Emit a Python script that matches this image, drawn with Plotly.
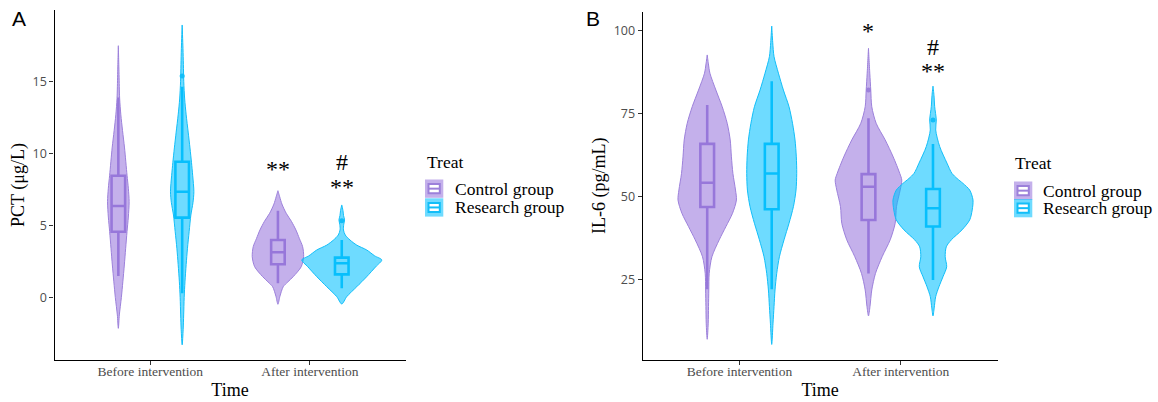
import plotly.graph_objects as go

W, H = 1158, 402

# ---------------- data ----------------
categories = ["Before intervention", "After intervention"]
groups = ["Control group", "Research group"]

# box statistics: [lower whisker, Q1, median, Q3, upper whisker] per time point
pct_control_box = [[1.5, 4.58, 6.37, 8.47, 13.9], [1.0, 2.32, 3.15, 4.0, 6.04]]
pct_research_box = [[0.3, 5.56, 7.36, 9.44, 14.65], [0.65, 1.62, 2.39, 2.78, 4.0]]
pct_control_outliers = [[], []]
pct_research_outliers = [[15.4], [5.35]]

il6_control_box = [[22.1, 46.9, 54.2, 65.9, 77.6], [26.9, 43.0, 53.0, 56.8, 73.6]]
il6_research_box = [[22.1, 46.2, 57.0, 65.9, 84.8], [24.9, 41.0, 46.5, 52.3, 65.9]]
il6_control_outliers = [[], [82.1]]
il6_research_outliers = [[], [73.1]]

# violin density profiles (value level, relative density)
pct_control_before_lv = [-2.13, -1.2, 0.0, 1.1, 2.27, 3.4, 4.6, 5.6, 6.67, 7.6, 8.5, 10.4, 11.6, 12.7, 13.85, 15.5, 17.5]
pct_control_before_d = [0, 1.0, 3.0, 4.5, 6.0, 7.3, 8.7, 10.0, 10.8, 10.0, 8.7, 6.2, 4.2, 2.5, 1.3, 0.7, 0]
pct_research_before_lv = [-3.28, -2.2, -1.2, 0.0, 1.1, 2.3, 3.43, 4.6, 5.74, 6.6, 7.36, 8.5, 9.4, 10.4, 11.5, 12.7, 13.8, 15.0, 16.2, 17.3, 18.94]
pct_research_before_d = [0, 1.0, 1.5, 2.0, 2.8, 4.0, 5.3, 7.0, 8.7, 10.8, 11.7, 10.5, 9.3, 7.8, 6.0, 4.0, 2.5, 1.6, 1.2, 0.8, 0]
pct_control_after_lv = [-0.46, 0.1, 0.76, 1.1, 1.46, 2.15, 2.85, 3.54, 4.1, 4.7, 5.3, 5.86, 6.5, 7.0, 7.43]
pct_control_after_d = [0, 2.0, 5.3, 10.0, 15.3, 23.3, 25.7, 24.7, 21.5, 18.0, 13.5, 8.3, 4.0, 1.8, 0]
pct_research_after_lv = [-0.44, 0.07, 0.76, 1.46, 2.15, 2.62, 2.9, 3.31, 3.65, 4.0, 4.35, 4.7, 5.1, 5.4, 5.7, 6.05, 6.44]
pct_research_after_d = [0, 5.0, 15.0, 25.0, 34.0, 40.0, 33.0, 25.0, 15.0, 8.3, 3.5, 1.7, 2.0, 2.8, 1.8, 1.2, 0]

il6_control_before_lv = [7.05, 11.9, 16.9, 21.9, 26.9, 31.9, 37.0, 41.0, 45.0, 49.0, 52.0, 57.0, 62.0, 67.1, 72.1, 77.1, 82.1, 87.2, 90.0, 92.7]
il6_control_before_d = [0, 1.0, 1.3, 1.6, 2.0, 4.7, 12.0, 18.7, 25.3, 29.2, 28.3, 25.7, 24.2, 23.0, 20.0, 15.0, 8.7, 2.7, 1.2, 0]
il6_research_before_lv = [5.5, 11.9, 16.9, 21.9, 26.9, 31.9, 37.0, 42.0, 47.0, 52.0, 57.0, 62.0, 67.1, 72.1, 77.1, 82.1, 87.2, 92.2, 96.5, 101.4]
il6_research_before_d = [0, 1.3, 2.3, 3.3, 5.0, 7.7, 12.3, 17.3, 21.7, 24.3, 25.0, 24.6, 23.3, 20.8, 17.3, 11.7, 6.7, 2.3, 1.0, 0]
il6_control_after_lv = [14.1, 16.9, 21.9, 26.9, 32.0, 37.0, 42.0, 47.0, 52.0, 55.0, 57.0, 62.0, 67.1, 72.1, 77.1, 82.1, 87.2, 94.7]
il6_control_after_d = [0, 1.5, 3.3, 7.0, 13.8, 21.7, 26.7, 28.0, 31.7, 33.3, 31.3, 24.7, 16.7, 7.7, 3.3, 2.3, 1.3, 0]
il6_research_after_lv = [14.1, 16.5, 19.9, 22.9, 25.9, 28.9, 31.9, 34.9, 37.0, 40.0, 43.0, 46.0, 49.0, 52.0, 54.0, 55.5, 57.0, 60.1, 65.1, 70.1, 73.1, 77.1, 80.5, 83.3]
il6_research_after_d = [0, 1.2, 2.7, 6.0, 10.0, 13.7, 12.2, 13.3, 18.3, 29.0, 36.7, 39.2, 40.0, 36.7, 30.0, 24.0, 19.0, 14.0, 6.7, 2.7, 3.3, 1.7, 1.0, 0]

# significance marks: (time index, group index, text, value level)
pct_marks = [(1, 0, "**", 8.99), (1, 1, "#", 9.40), (1, 1, "**", 7.78)]
il6_marks = [(1, 0, "*", 100.2), (1, 1, "#", 95.2), (1, 1, "**", 88.2)]

# ---------------- styles ----------------
line_colors = ["#9C80DA", "#12BEF8"]
fill_colors = ["rgba(147,112,219,0.55)", "rgba(0,191,255,0.57)"]
dodge = [-0.2, 0.2]
XR = [0.4, 2.6]
SERIF = "Liberation Serif, Times New Roman, serif"
SANS = "Open Sans, Noto Sans, sans-serif"

panels = [
    dict(xa="x", ya="y", dom_x=(54.5, 405.6), dom_y=(10, 360), yr=[-4.33, 19.98], ytv=[0, 5, 10, 15],
         ytitle="PCT (μg/L)", boxes=[pct_control_box, pct_research_box],
         outl=[pct_control_outliers, pct_research_outliers],
         prof=[[(pct_control_before_lv, pct_control_before_d), (pct_control_after_lv, pct_control_after_d)],
               [(pct_research_before_lv, pct_research_before_d), (pct_research_after_lv, pct_research_after_d)]],
         marks=pct_marks, label="A", label_xy=(19, 19),
         leg=dict(title=(425, 162), key_x=425, key_y=(179.5, 198.3), text_x=453)),
    dict(xa="x2", ya="y2", dom_x=(642.7, 997.5), dom_y=(11.7, 360), yr=[0.81, 105.72], ytv=[25, 50, 75, 100],
         ytitle="IL-6 (pg/mL)", boxes=[il6_control_box, il6_research_box],
         outl=[il6_control_outliers, il6_research_outliers],
         prof=[[(il6_control_before_lv, il6_control_before_d), (il6_control_after_lv, il6_control_after_d)],
               [(il6_research_before_lv, il6_research_before_d), (il6_research_after_lv, il6_research_after_d)]],
         marks=il6_marks, label="B", label_xy=(593, 19),
         leg=dict(title=(1013, 163), key_x=1014, key_y=(181.5, 199.0), text_x=1041)),
]

def px(x):
    return x / W

def py(y):
    return 1 - y / H

fig = go.Figure()
layout_axes = {}
annotations = []
shapes = []

for p in panels:
    ppu = (p["dom_x"][1] - p["dom_x"][0]) / (XR[1] - XR[0])
    # violins
    for t in range(len(categories)):
        for g in range(len(groups)):
            lv, d = p["prof"][g][t]
            c = t + 1 + dodge[g]
            xs = [c + v / ppu for v in d] + [c - v / ppu for v in reversed(d)]
            ys = list(lv) + list(reversed(lv))
            fig.add_trace(go.Scatter(x=xs, y=ys, mode="lines", fill="toself",
                                     fillcolor=fill_colors[g],
                                     line=dict(color=line_colors[g], width=1, shape="spline", smoothing=0.8),
                                     xaxis=p["xa"], yaxis=p["ya"], showlegend=False, hoverinfo="skip"))
    # boxes
    for t in range(len(categories)):
        for g in range(len(groups)):
            lf, q1, med, q3, uf = p["boxes"][g][t]
            c = t + 1 + dodge[g]
            fig.add_trace(go.Box(x=[c], lowerfence=[lf], q1=[q1], median=[med], q3=[q3], upperfence=[uf],
                                 width=0.085, fillcolor="white", line=dict(color=line_colors[g], width=2.6),
                                 whiskerwidth=0, boxpoints=False, xaxis=p["xa"], yaxis=p["ya"],
                                 showlegend=False, hoverinfo="skip"))
            ol = p["outl"][g][t]
            if ol:
                fig.add_trace(go.Scatter(x=[c] * len(ol), y=ol, mode="markers",
                                         marker=dict(color=line_colors[g], size=5),
                                         xaxis=p["xa"], yaxis=p["ya"], showlegend=False, hoverinfo="skip"))
    # significance marks
    for t, g, txt, yv in p["marks"]:
        annotations.append(dict(x=t + 1 + dodge[g], y=yv, xref=p["xa"], yref=p["ya"], text=txt,
                                showarrow=False, font=dict(family=SERIF, size=24, color="black"),
                                yshift=-1 if "*" in txt else 0, xanchor="center", yanchor="middle"))
    # axes
    xk = "xaxis" if p["xa"] == "x" else "xaxis2"
    yk = "yaxis" if p["ya"] == "y" else "yaxis2"
    layout_axes[xk] = dict(domain=[px(p["dom_x"][0]), px(p["dom_x"][1])], range=XR, anchor=p["ya"],
                           tickvals=[1, 2], ticktext=categories, showline=True, linecolor="black",
                           linewidth=1.2, ticks="outside", ticklen=4, tickcolor="#333333", showgrid=False,
                           zeroline=False, tickfont=dict(family=SERIF, size=13.5, color="#4D4D4D"),
                           ticklabelstandoff=-5,
                           title=dict(text="Time", font=dict(family=SERIF, size=18, color="black"), standoff=5))
    layout_axes[yk] = dict(domain=[py(p["dom_y"][1]), py(p["dom_y"][0])], range=p["yr"], anchor=p["xa"],
                           tickvals=p["ytv"], showline=True, linecolor="black", linewidth=1.2,
                           ticks="outside", ticklen=4, tickcolor="#333333", showgrid=False, zeroline=False,
                           tickfont=dict(family=SANS, size=12.5, color="#4D4D4D"),
                           title=dict(text=p["ytitle"], font=dict(family=SERIF, size=18, color="black"), standoff=3))
    # panel label
    annotations.append(dict(x=px(p["label_xy"][0]), y=py(p["label_xy"][1]), xref="paper", yref="paper",
                            text=p["label"], showarrow=False, xanchor="center", yanchor="middle",
                            font=dict(family="Liberation Sans, Arial, sans-serif", size=21, color="black")))
    # legend
    lg = p["leg"]
    annotations.append(dict(x=px(lg["title"][0]), y=py(lg["title"][1]), xref="paper", yref="paper",
                            text="Treat", showarrow=False, xanchor="left", yanchor="middle",
                            font=dict(family=SERIF, size=17.5, color="black")))
    k = 18.3
    for g, name in enumerate(groups):
        x0 = lg["key_x"]
        y0 = lg["key_y"][g]
        shapes.append(dict(type="rect", xref="paper", yref="paper", x0=px(x0), x1=px(x0 + k),
                           y0=py(y0 + k), y1=py(y0), fillcolor=fill_colors[g], line=dict(width=0)))
        shapes.append(dict(type="rect", xref="paper", yref="paper", x0=px(x0 + 3.5), x1=px(x0 + k - 3.5),
                           y0=py(y0 + k * 0.75), y1=py(y0 + k * 0.25), fillcolor="white",
                           line=dict(color=line_colors[g], width=2)))
        shapes.append(dict(type="line", xref="paper", yref="paper", x0=px(x0 + 3.5), x1=px(x0 + k - 3.5),
                           y0=py(y0 + k / 2), y1=py(y0 + k / 2), line=dict(color=line_colors[g], width=2)))
        annotations.append(dict(x=px(lg["text_x"]), y=py(y0 + k / 2), xref="paper", yref="paper",
                                text=name, showarrow=False, xanchor="left", yanchor="middle",
                                font=dict(family=SERIF, size=17.5, color="black")))

fig.update_layout(width=W, height=H, margin=dict(l=0, r=0, t=0, b=0), plot_bgcolor="white",
                  paper_bgcolor="white", showlegend=False, annotations=annotations, shapes=shapes,
                  boxmode="overlay", **layout_axes)

fig.write_html("out.html", config={"displayModeBar": False},
               post_script="document.body.style.margin='0px';document.body.style.overflow='hidden';")
